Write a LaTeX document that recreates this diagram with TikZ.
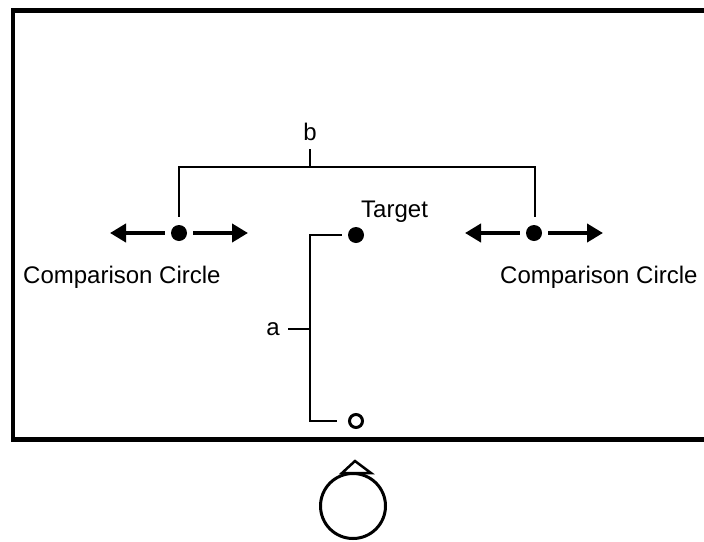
\documentclass[tikz,border=0pt]{standalone}
\usepackage{fontspec}
\setmainfont{Liberation Sans}
\usetikzlibrary{arrows.meta}
\begin{document}
\begin{tikzpicture}[x=1pt,y=-1pt,
  lbl/.style={inner sep=0pt, font=\fontsize{24}{28}\selectfont},
  thinl/.style={line width=1.6pt},
  arr/.style={line width=4pt, -{Triangle[length=16pt,width=18pt]}},
  dotnode/.style={circle, fill=black, inner sep=0pt, minimum size=16pt},
  opendot/.style={circle, draw=black, line width=3pt, inner sep=0pt, minimum size=13pt},
  viewerc/.style={circle, draw=black, line width=3pt, inner sep=0pt, minimum size=65pt}]
\clip (0,0) rectangle (704,541);
\fill[white] (0,0) rectangle (704,541);
% frame
\draw[line width=4.5pt] (13,10.5) rectangle (714,439.5);
% dots
\node[dotnode] (ldot) at (179,233) {};
\node[dotnode] (rdot) at (534,233) {};
\node[dotnode] (tdot) at (356,235) {};
\node[opendot] (odot) at (356,421) {};
% arrows
\coordinate (lLtip) at (110,233);
\coordinate (lRtip) at (248,233);
\coordinate (rLtip) at (465,233);
\coordinate (rRtip) at (603,233);
\draw[arr] ([xshift=-6pt]ldot.west) -- (lLtip);
\draw[arr] ([xshift=6pt]ldot.east) -- (lRtip);
\draw[arr] ([xshift=-6pt]rdot.west) -- (rLtip);
\draw[arr] ([xshift=6pt]rdot.east) -- (rRtip);
% bracket b
\coordinate (bL) at (179,167);
\coordinate (bR) at (535,167);
\coordinate (bM) at (310,167);
\coordinate (bT) at (310,149);
\draw[thinl] ([yshift=8pt]ldot.north) -- (bL) -- (bR) -- ([yshift=8pt]rdot.north -| bR);
\draw[thinl] (bM) -- (bT);
\node[lbl, anchor=base] (blab) at (310,140) {b};
% bracket a
\coordinate (aT) at (310,235);
\coordinate (aB) at (310,421);
\coordinate (aM) at (310,329);
\coordinate (aK) at (288,329);
\draw[thinl] ([xshift=-6pt]tdot.west) -- (aT) -- (aB) -- ([xshift=-11.5pt]odot.west);
\draw[thinl] (aM) -- (aK);
\node[lbl, anchor=base] (alab) at (273,335) {a};
% labels
\node[lbl, anchor=base west] (tlab) at (361,217) {Target};
\node[lbl, anchor=base west] (llab) at (23,283) {Comparison Circle};
\node[lbl, anchor=base west] (rlab) at (500,283) {Comparison Circle};
% viewer
\node[viewerc] (viewer) at (353,506) {};
\draw[line width=2.5pt, line join=miter] (342,473) -- (355,461) -- (371,473) -- cycle;
\end{tikzpicture}
\end{document}
